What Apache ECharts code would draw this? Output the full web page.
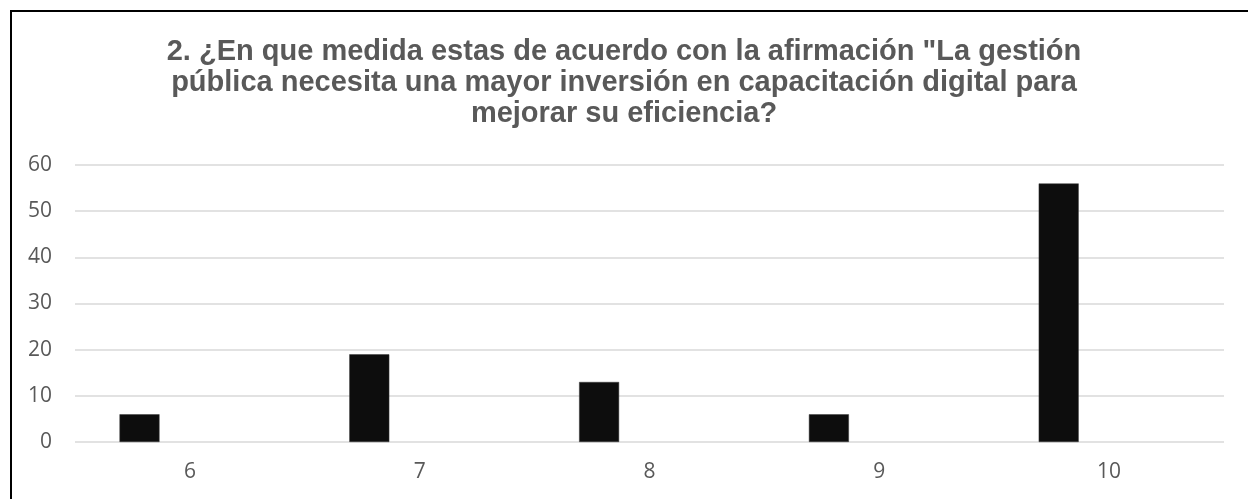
<!DOCTYPE html>
<html>
<head>
<meta charset="utf-8">
<script src="https://cdn.jsdelivr.net/npm/echarts@6/dist/echarts.min.js"></script>
<style>
  html, body { margin: 0; padding: 0; background: #fff; }
  #chart { width: 1248px; height: 499px; }
</style>
</head>
<body>
<div id="chart"></div>
<script>
const titleText = '2. ¿En que medida estas de acuerdo con la afirmación "La gestión\npública necesita una mayor inversión en capacitación digital para\nmejorar su eficiencia?'
const categories = ['6', '7', '8', '9', '10']
const respuestas = [6, 19, 13, 6, 56]
const vacia = [null, null, null, null, null]
const yTicks = [0, 10, 20, 30, 40, 50, 60]

const chart = echarts.init(document.getElementById('chart'))

const option = {
  animation: false,
  backgroundColor: '#fff',
  title: {
    text: titleText,
    left: 'center',
    top: 31,
    textStyle: {
      fontFamily: 'Liberation Sans',
      fontWeight: 'bold',
      fontSize: 29,
      lineHeight: 31,
      color: '#595959'
    }
  },
  graphic: [
    {
      type: 'polyline',
      shape: { points: [[11, 499], [11, 11], [1248, 11]] },
      style: { stroke: '#000', lineWidth: 2, fill: null }
    }
  ],
  grid: {
    left: 75,
    right: 24,
    top: 165,
    bottom: 57
  },
  xAxis: {
    type: 'category',
    data: categories,
    axisLine: { show: false },
    axisTick: { show: false },
    axisLabel: {
      color: '#595959',
      fontFamily: 'Open Sans',
      fontSize: 21,
      margin: 20
    }
  },
  yAxis: {
    type: 'value',
    min: yTicks[0],
    max: yTicks[yTicks.length - 1],
    interval: 10,
    axisLine: { show: false },
    axisTick: { show: false },
    axisLabel: {
      color: '#595959',
      fontFamily: 'Open Sans',
      fontSize: 21,
      margin: 23
    },
    splitLine: { lineStyle: { color: '#d9d9d9', width: 1.5 } }
  },
  series: [
    {
      name: 'Respuestas',
      type: 'bar',
      data: respuestas,
      barWidth: 40,
      barGap: '152%',
      itemStyle: { color: '#0d0d0d', borderColor: '#3a3a3a', borderWidth: 0.5 }
    },
    {
      name: 'vacía',
      type: 'bar',
      data: vacia,
      barWidth: 40
    }
  ]
}

chart.setOption(option)
</script>
</body>
</html>
